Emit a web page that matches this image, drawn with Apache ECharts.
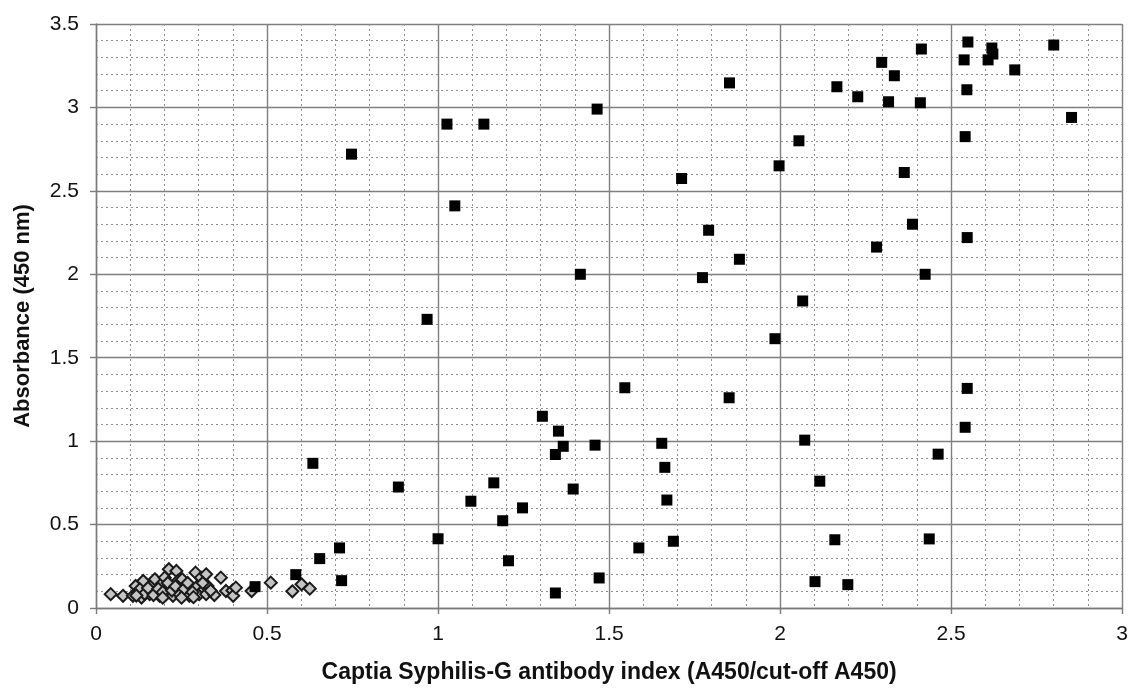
<!DOCTYPE html>
<html>
<head>
<meta charset="utf-8">
<script src="https://cdn.jsdelivr.net/npm/echarts@6/dist/echarts.min.js"></script>
<style>
html,body{margin:0;padding:0;background:#fff;overflow:hidden;}
#chart{width:1131px;height:689px;}
</style>
</head>
<body>
<div id="chart"></div>
<script>
// Negative samples (diamonds): [index, absorbance]
const negativeSamples = [
  [0.043,0.083],[0.079,0.073],[0.108,0.073],[0.116,0.132],[0.123,0.092],[0.133,0.063],
  [0.138,0.162],[0.147,0.102],[0.157,0.083],[0.162,0.132],[0.172,0.172],[0.176,0.102],
  [0.186,0.073],[0.191,0.142],[0.201,0.182],[0.205,0.083],[0.213,0.232],[0.215,0.122],
  [0.225,0.073],[0.235,0.222],[0.239,0.162],[0.244,0.083],[0.252,0.172],[0.264,0.092],
  [0.273,0.073],[0.291,0.212],[0.297,0.132],[0.302,0.083],[0.307,0.182],[0.317,0.112],
  [0.322,0.202],[0.326,0.132],[0.322,0.083],[0.346,0.078],[0.365,0.182],[0.380,0.102],
  [0.399,0.105],[0.401,0.073],[0.409,0.122],[0.455,0.102],[0.511,0.152],[0.574,0.100],
  [0.601,0.142],[0.625,0.116],
  [0.128,0.112],[0.142,0.085],[0.152,0.120],[0.168,0.078],[0.182,0.115],[0.195,0.095],
  [0.210,0.150],[0.222,0.105],[0.232,0.130],[0.258,0.115],[0.268,0.150],[0.282,0.095],
  [0.312,0.150],[0.335,0.105],[0.118,0.075],[0.285,0.065],[0.195,0.062],[0.250,0.062]
];
// Positive samples (squares): [index, absorbance]
const positiveSamples = [
  [0.747,2.72],[1.026,2.90],[1.134,2.90],[1.465,2.99],[1.049,2.41],[0.968,1.73],
  [1.416,2.00],[1.546,1.32],[1.712,2.574],[1.852,3.147],
  [2.549,3.392],[2.619,3.356],[2.622,3.32],[2.608,3.285],[2.538,3.285],[2.413,3.35],
  [2.297,3.27],[2.334,3.19],[2.166,3.124],[2.227,3.064],[2.317,3.034],[2.410,3.028],
  [2.546,3.106],[2.686,3.225],[2.800,3.374],[2.852,2.94],[2.541,2.825],[2.055,2.80],
  [1.997,2.65],[2.363,2.61],
  [1.791,2.264],[1.881,2.09],[1.773,1.98],[2.282,2.163],[2.387,2.30],[2.547,2.22],
  [2.424,2.00],[2.066,1.84],[1.985,1.614],[1.851,1.26],[2.547,1.316],
  [1.305,1.149],[1.352,1.06],[1.366,0.969],[1.343,0.92],[1.459,0.976],[1.654,0.987],
  [1.663,0.843],[1.669,0.647],[1.688,0.40],[1.587,0.36],[1.471,0.18],[1.343,0.09],
  [1.395,0.713],[1.163,0.75],[1.096,0.64],[1.247,0.60],[1.189,0.523],[1.206,0.283],
  [1.0,0.415],[0.884,0.725],[0.634,0.867],[0.712,0.36],[0.654,0.296],[0.718,0.164],
  [0.584,0.20],[0.465,0.128],
  [2.541,1.083],[2.072,1.006],[2.462,0.922],[2.116,0.76],[2.160,0.409],[2.436,0.414],
  [2.102,0.158],[2.198,0.14]
];
const xTitle = 'Captia Syphilis-G antibody index (A450/cut-off A450)';
const yTitle = 'Absorbance (450 nm)';

const chart = echarts.init(document.getElementById('chart'), null, {renderer:'canvas', width:1131, height:689});
const font = '"Liberation Sans", Arial, sans-serif';
const axisCommon = {
  type: 'value',
  interval: 0.5,
  axisLine: {show: true, onZero: false, lineStyle: {color: '#7a7a7a', width: 1.4}},
  axisTick: {show: true, length: 6, lineStyle: {color: '#7a7a7a', width: 1.4}},
  minorTick: {show: false, splitNumber: 5},
  splitLine: {show: true, lineStyle: {color: '#7f7f7f', width: 1.4}},
  minorSplitLine: {show: true, lineStyle: {color: '#8f8f8f', width: 1, type: [2, 3]}},
  nameLocation: 'middle',
  nameTextStyle: {fontFamily: font, fontWeight: 'bold', fontSize: 22, color: '#111'}
};
chart.setOption({
  animation: false,
  backgroundColor: '#fff',
  grid: {left: 96, right: 3, top: 24, bottom: 78, containLabel: false},
  xAxis: Object.assign({}, axisCommon, {
    min: 0, max: 3,
    name: xTitle, nameGap: 53,
    nameTextStyle: {fontFamily: font, fontWeight: 'bold', fontSize: 23, color: '#111'},
    axisLabel: {fontFamily: font, fontSize: 21, color: '#111', margin: 16}
  }),
  yAxis: Object.assign({}, axisCommon, {
    min: 0, max: 3.5,
    name: yTitle, nameGap: 62,
    axisLabel: {fontFamily: font, fontSize: 21, color: '#111', margin: 17}
  }),
  series: [
    {
      type: 'scatter',
      data: negativeSamples,
      symbol: 'diamond',
      symbolSize: 12,
      itemStyle: {color: '#c4c4c4', borderColor: '#1a1a1a', borderWidth: 2, opacity: 1}
    },
    {
      type: 'scatter',
      data: positiveSamples,
      symbol: 'rect',
      symbolSize: 11,
      itemStyle: {color: '#000', opacity: 1}
    }
  ]
});
</script>
</body>
</html>
